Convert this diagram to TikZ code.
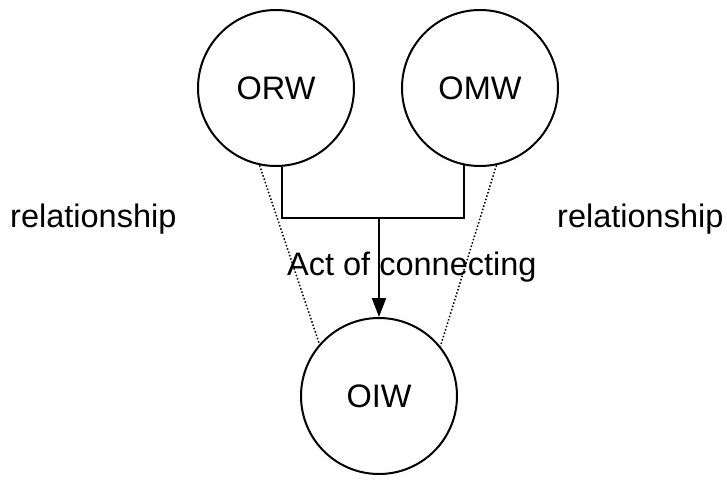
\documentclass[tikz,border=0pt]{standalone}
\usepackage{fontspec}
\setmainfont{Liberation Sans}
\usetikzlibrary{arrows.meta,positioning}

\begin{document}
\begin{tikzpicture}[
x=1pt,y=-1pt,
world/.style={
  draw,
  circle,
  line width=2pt,
  minimum size=156pt,
  inner sep=0pt,
  font=\fontsize{32.5}{39}\selectfont
  },
label/.style={
  font=\fontsize{32.5}{39}\selectfont,
  inner sep=0pt
  },
link/.style={
  line width=2pt
  },
rel/.style={
  line width=1.5pt,
  dotted
  },
>={Triangle[length=19pt,width=14pt]}
]
\useasboundingbox (0,0) rectangle (727,479);

\node[world] (orw) at (276,88) {ORW};
\node[world] (omw) at (480,88) {OMW};
\node[world] (oiw) at (379,396) {OIW};

\node[label,anchor=base west] (relleft) at (10,227) {relationship};
\node[label,anchor=base west] (relright) at (557,227) {relationship};
\node[label,anchor=base west] (act) at (287,275) {Act of connecting};

\coordinate (join) at (379,218);

\draw[rel] (orw.-102) -- (oiw.139);
\draw[rel] (omw.-78) -- (oiw.39);

\draw[link] (orw.-86) |- (join);
\draw[link] (omw.-102) |- (join);
\draw[link,->] (join) -- (oiw.north);

\end{tikzpicture}
\end{document}
